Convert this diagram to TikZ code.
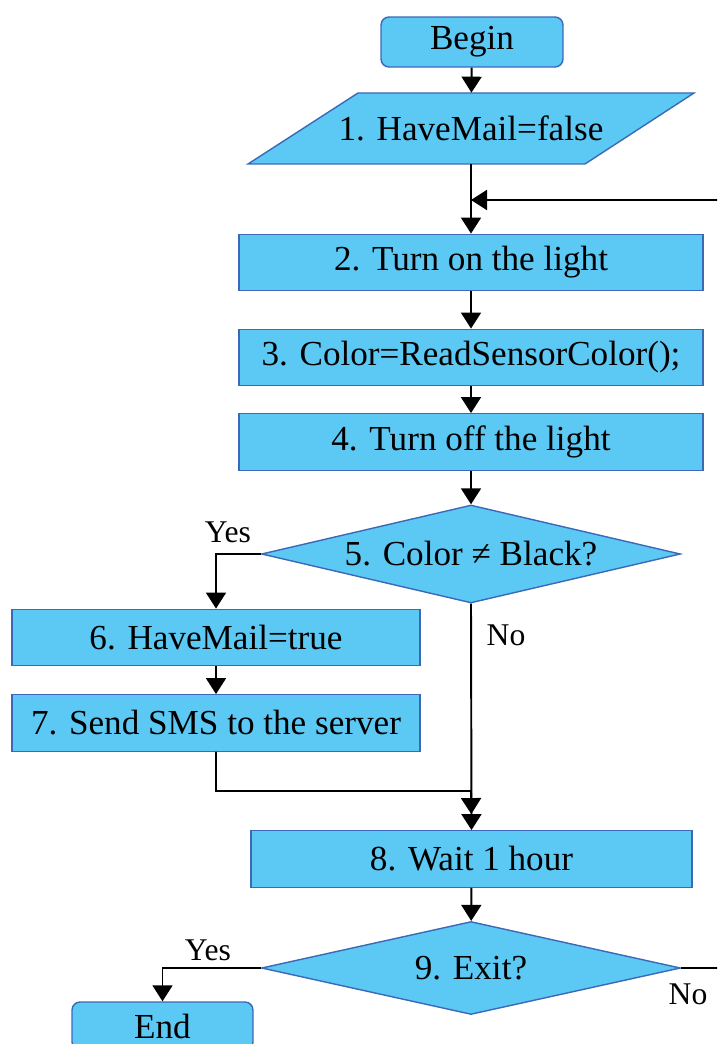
\documentclass[tikz,border=0pt]{standalone}
\usepackage{fontspec}
\setmainfont{Liberation Serif}
\usetikzlibrary{shapes.geometric,arrows.meta}
\definecolor{boxfill}{HTML}{5BC9F4}
\definecolor{boxline}{HTML}{3C68B8}
\tikzset{
  chart/.style={draw=boxline,fill=boxfill,line width=0.8pt,inner sep=0pt,font=\fontsize{20}{24}\selectfont},
  startstop/.style={chart,rounded corners=0.16cm,minimum width=3.64cm,minimum height=1cm},
  procbox/.style={chart,minimum height=1.13cm},
  decide/.style={chart,diamond,minimum width=8.38cm},
  arr/.style={-{Triangle[length=0.32cm,width=0.4cm]},line width=1.1pt},
  lbl/.style={font=\fontsize{18}{20}\selectfont}
}
\begin{document}
\begin{tikzpicture}[x=0.02cm,y=-0.02cm]
\useasboundingbox (0,0) rectangle (717,1044);
\clip (0,0) rectangle (717,1044);
% boxes
\node[startstop] (begin) at (472,42) {Begin};
\filldraw[chart] (358,93) -- (694,93) -- (585,164) -- (248,164) -- cycle;
\node[inner sep=0pt,minimum height=1.42cm,font=\fontsize{20}{24}\selectfont] (n1) at (471,128.5) {1. HaveMail=false};
\node[procbox,minimum width=9.28cm] (light) at (471,262.5) {2. Turn on the light};
\node[procbox,minimum width=9.28cm] (read) at (471,357.5) {3. Color=ReadSensorColor();};
\node[procbox,minimum width=9.28cm] (dark) at (471,442) {4. Turn off the light};
\node[decide,aspect=4.3,minimum height=1.96cm] (black) at (471,554) {5. Color ≠ Black?};
\node[procbox,minimum width=8.16cm] (mail) at (216,637.5) {6. HaveMail=true};
\node[procbox,minimum width=8.16cm] (sms) at (216,723) {7. Send SMS to the server};
\node[procbox,minimum width=8.82cm] (wait) at (471.5,859) {8. Wait 1 hour};
\node[decide,aspect=4.5,minimum height=1.86cm] (exit) at (471,968) {9. Exit?};
\node[startstop,minimum width=3.62cm,minimum height=0.96cm] (end) at (162.5,1026) {End};
\coordinate (back) at (471,200);
\coordinate (join) at (471,791);
% arrows
\draw[arr] (begin) -- (n1);
\draw[arr] (n1) -- (light);
\draw[arr] (exit.east) -- ++(60,0) |- (back);
\draw[arr] (light) -- (read);
\draw[arr] (read) -- (dark);
\draw[arr] (dark) -- (black);
\draw[arr] (black.west) -| (mail.north);
\draw[arr] (mail) -- (sms);
\draw[arr] (black.south) -- (wait.north);
\draw[arr,shorten >=0.32cm] (sms.south) |- (join) -- (wait.north);
\draw[arr] (wait) -- (exit);
\draw[arr] (exit.west) -| (end.north);
% labels
\node[lbl] (yes1) at (228,532) {Yes};
\node[lbl] (no1) at (506,635) {No};
\node[lbl] (yes2) at (208,950) {Yes};
\node[lbl] (no2) at (688,994) {No};
\end{tikzpicture}
\end{document}
